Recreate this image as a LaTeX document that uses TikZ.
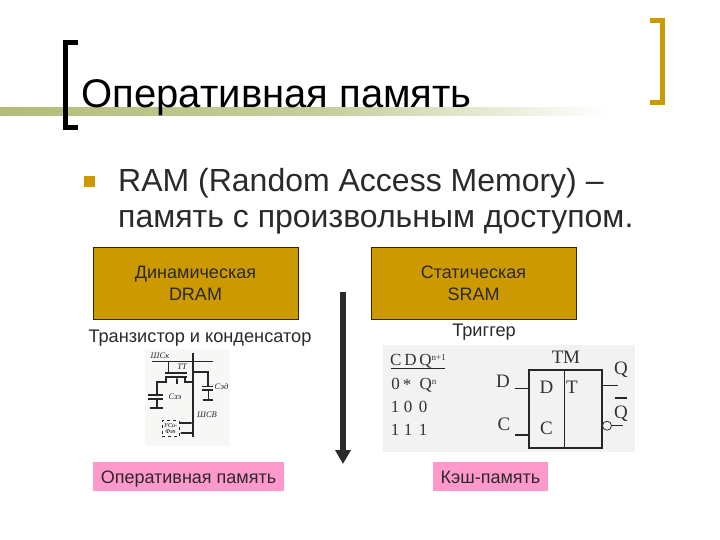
\documentclass[tikz,border=0pt]{standalone}
\usepackage{fontspec}
\setmainfont{Liberation Sans}
\newfontfamily\scanfont{Liberation Serif}
\usetikzlibrary{arrows.meta}
\definecolor{gold}{HTML}{CC9900}
\definecolor{olive}{HTML}{B4BC78}
\definecolor{pinkbox}{HTML}{FF99CC}
\definecolor{ink}{HTML}{2A2A2A}
\tikzset{
  px/.style={x=1pt,y=-1pt},
  goldbox/.style={draw=black!75!gold,line width=0.8pt,fill=gold,minimum width=205pt,minimum height=72pt,inner sep=0pt,align=center,font=\fontsize{18}{22}\selectfont,text=ink},
  pinkb/.style={fill=pinkbox,minimum height=29pt,inner sep=0pt,text height=15pt,text depth=2pt,font=\fontsize{18}{20}\selectfont,text=ink},
  lbl/.style={inner sep=0pt,font=\fontsize{18.2}{20}\selectfont,text=ink},
  bracket/.style={line width=5pt,line cap=butt,miter limit=10},
  wire/.style={line width=1.1pt,draw=black!85},
  thickwire/.style={line width=1.8pt,draw=black!85},
  sc/.style={inner sep=0pt,text=black!85,font=\scanfont\itshape\fontsize{8.5}{9}\selectfont},
  tb/.style={inner sep=0pt,text=black!80,font=\scanfont\fontsize{19}{20}\selectfont},
  hd/.style={inner sep=0pt,text=black!80,font=\scanfont\fontsize{17}{18}\selectfont},
}
\newcommand{\supsm}[1]{\raisebox{5pt}{\fontsize{9}{9}\selectfont #1}}
\begin{document}
\begin{tikzpicture}[px]
\useasboundingbox (0,0) rectangle (720,540);
\fill[white] (0,0) rectangle (720,540);
% title band
\shade[left color=olive,right color=olive!75!white] (0,108) rectangle (320,116);
\shade[left color=olive!75!white,right color=white] (320,108) rectangle (610,116);
% brackets
\draw[bracket,draw=black] (78,42.5) -- (65.5,42.5) -- (65.5,127.5) -- (78,127.5);
\draw[bracket,draw=gold] (650,20.5) -- (662.5,20.5) -- (662.5,102.5) -- (650,102.5);
% title and bullet
\node[anchor=base west,inner sep=0pt,font=\fontsize{40}{44}\selectfont] (title) at (81.5,107.5) {Оперативная память};
\node[fill=gold,minimum size=11pt,inner sep=0pt] (bul) at (89.5,182) {};
\node[anchor=base west,inner sep=0pt,font=\fontsize{32}{36}\selectfont,text=ink] (l1) at (118,192) {RAM (Random Access Memory) –};
\node[anchor=base west,inner sep=0pt,font=\fontsize{32}{36}\selectfont,text=ink] (l2) at (118,228) {память с произвольным доступом.};
% boxes
\node[goldbox] (dram) at (195.5,283) {Динамическая\\DRAM};
\node[goldbox] (sram) at (473.5,283) {Статическая\\SRAM};
\node[lbl,anchor=base] (tk) at (200,342) {Транзистор и конденсатор};
\node[lbl,anchor=base] (trg) at (484,336) {Триггер};
\node[pinkb,minimum width=191pt] (opm) at (188.5,476.5) {Оперативная память};
\node[pinkb,minimum width=115pt] (cache) at (490.5,476.5) {Кэш-память};
% arrow
\coordinate (a1) at (343,292);
\coordinate (a2) at (343,464);
\draw[line width=6pt,draw=ink,-{Triangle[length=14pt,width=15pt]}] (a1) -- (a2);
% left scan
\fill[yellow!8!black!4!white] (145,349) rectangle (230,446);
\draw[wire] (151.7,361.7) -- (213,361.7);
\draw[thickwire] (193.3,353) -- (193.3,437);
\draw[wire] (168.3,361.7) -- (168.3,372.7);
\draw[thickwire] (165,372.7) -- (186.7,372.7);
\draw[thickwire] (165,376.7) -- (186.7,376.7);
\draw[-{Latex[length=3pt]},wire] (177,384) -- (177,377);
\draw[thickwire] (166,376.7) -- (166,381.7) -- (156.7,381.7) -- (156.7,395);
\draw[thickwire] (148.3,395) -- (163.3,395);
\draw[thickwire] (148.3,399.3) -- (163.3,399.3);
\draw[thickwire] (156.7,399.3) -- (156.7,408.3);
\draw[thickwire] (150,408.3) -- (163.3,408.3);
\draw[thickwire] (185,376.7) -- (185,381.7) -- (193.3,381.7);
\draw[thickwire] (193.3,371.7) -- (208.3,371.7) -- (208.3,386.7);
\draw[wire] (201.7,386.7) -- (213.3,386.7);
\draw[wire] (201.7,390) -- (213.3,390);
\draw[wire] (208.3,390) -- (208.3,400);
\draw[wire] (202.7,400) -- (213.3,400);
\node[sc] (s1) at (160,355.5) {ШСк};
\node[sc] (s2) at (182,367) {ТТ};
\node[sc] (s3) at (175,397) {Сзэ};
\node[sc] (s4) at (221.5,387) {Сэд};
\node[sc] (s5) at (207,415) {ШСВ};
\node[draw=black!85,dashed,line width=0.9pt,inner sep=1pt,align=center,minimum width=17pt,minimum height=16pt,font=\scanfont\itshape\fontsize{6}{6.5}\selectfont] (s6) at (170.5,428.5) {УСи-\\Фэп};
\coordinate (b1) at (193.3,423);
\coordinate (b2) at (193.3,433);
\draw[wire,-{Latex[length=3pt]}] (s6.east |- b1) -- (b1);
\draw[wire,-{Latex[length=3pt]}] (b2) -- (s6.east |- b2);
% right scan
\fill[black!5!white] (383,345) rectangle (635,452);
\node[hd,anchor=base] (t0) at (418,365.5) {C\,D\,Q\supsm{n+1}};
\draw[wire,line width=1.2pt] (391,368.5) -- (445,368.5);
\node[hd] (t1a) at (395.5,384) {0};
\node[hd] (t1b) at (407,385) {*};
\node[hd,anchor=base] (t1c) at (428,389.5) {Q\supsm{n}};
\node[hd] (t2a) at (395,407) {1};
\node[hd] (t2b) at (408,407) {0};
\node[hd] (t2c) at (423,407) {0};
\node[hd] (t3a) at (395,430) {1};
\node[hd] (t3b) at (408,430) {1};
\node[hd] (t3c) at (423,430) {1};
\draw[line width=1.6pt,draw=black!85] (529,370) rectangle (602,448);
\draw[line width=1pt,draw=black!85] (564.5,370) -- (564.5,448);
\node[tb] (tm) at (566,357) {ТМ};
\node[tb] (iD) at (546.5,387) {D};
\node[tb] (iT) at (572,387) {T};
\node[tb] (iC) at (546.5,428) {C};
\node[tb] (oD) at (503,381) {D};
\node[tb] (oC) at (504,424) {C};
\node[tb] (oQ) at (621,370) {Q};
\node[tb] (oQb) at (621,414) {Q};
\draw[wire] (615,398) -- (627,398);
\draw[wire] (515,388.5) -- (529,388.5);
\draw[wire] (515,435) -- (529,435);
\draw[wire] (602,385.5) -- (618,385.5);
\node[draw=black!75,line width=0.9pt,circle,minimum size=9pt,inner sep=0pt] (bub) at (607,425.7) {};
\draw[wire] (bub.east) -- (623,425.7);
\end{tikzpicture}
\end{document}
